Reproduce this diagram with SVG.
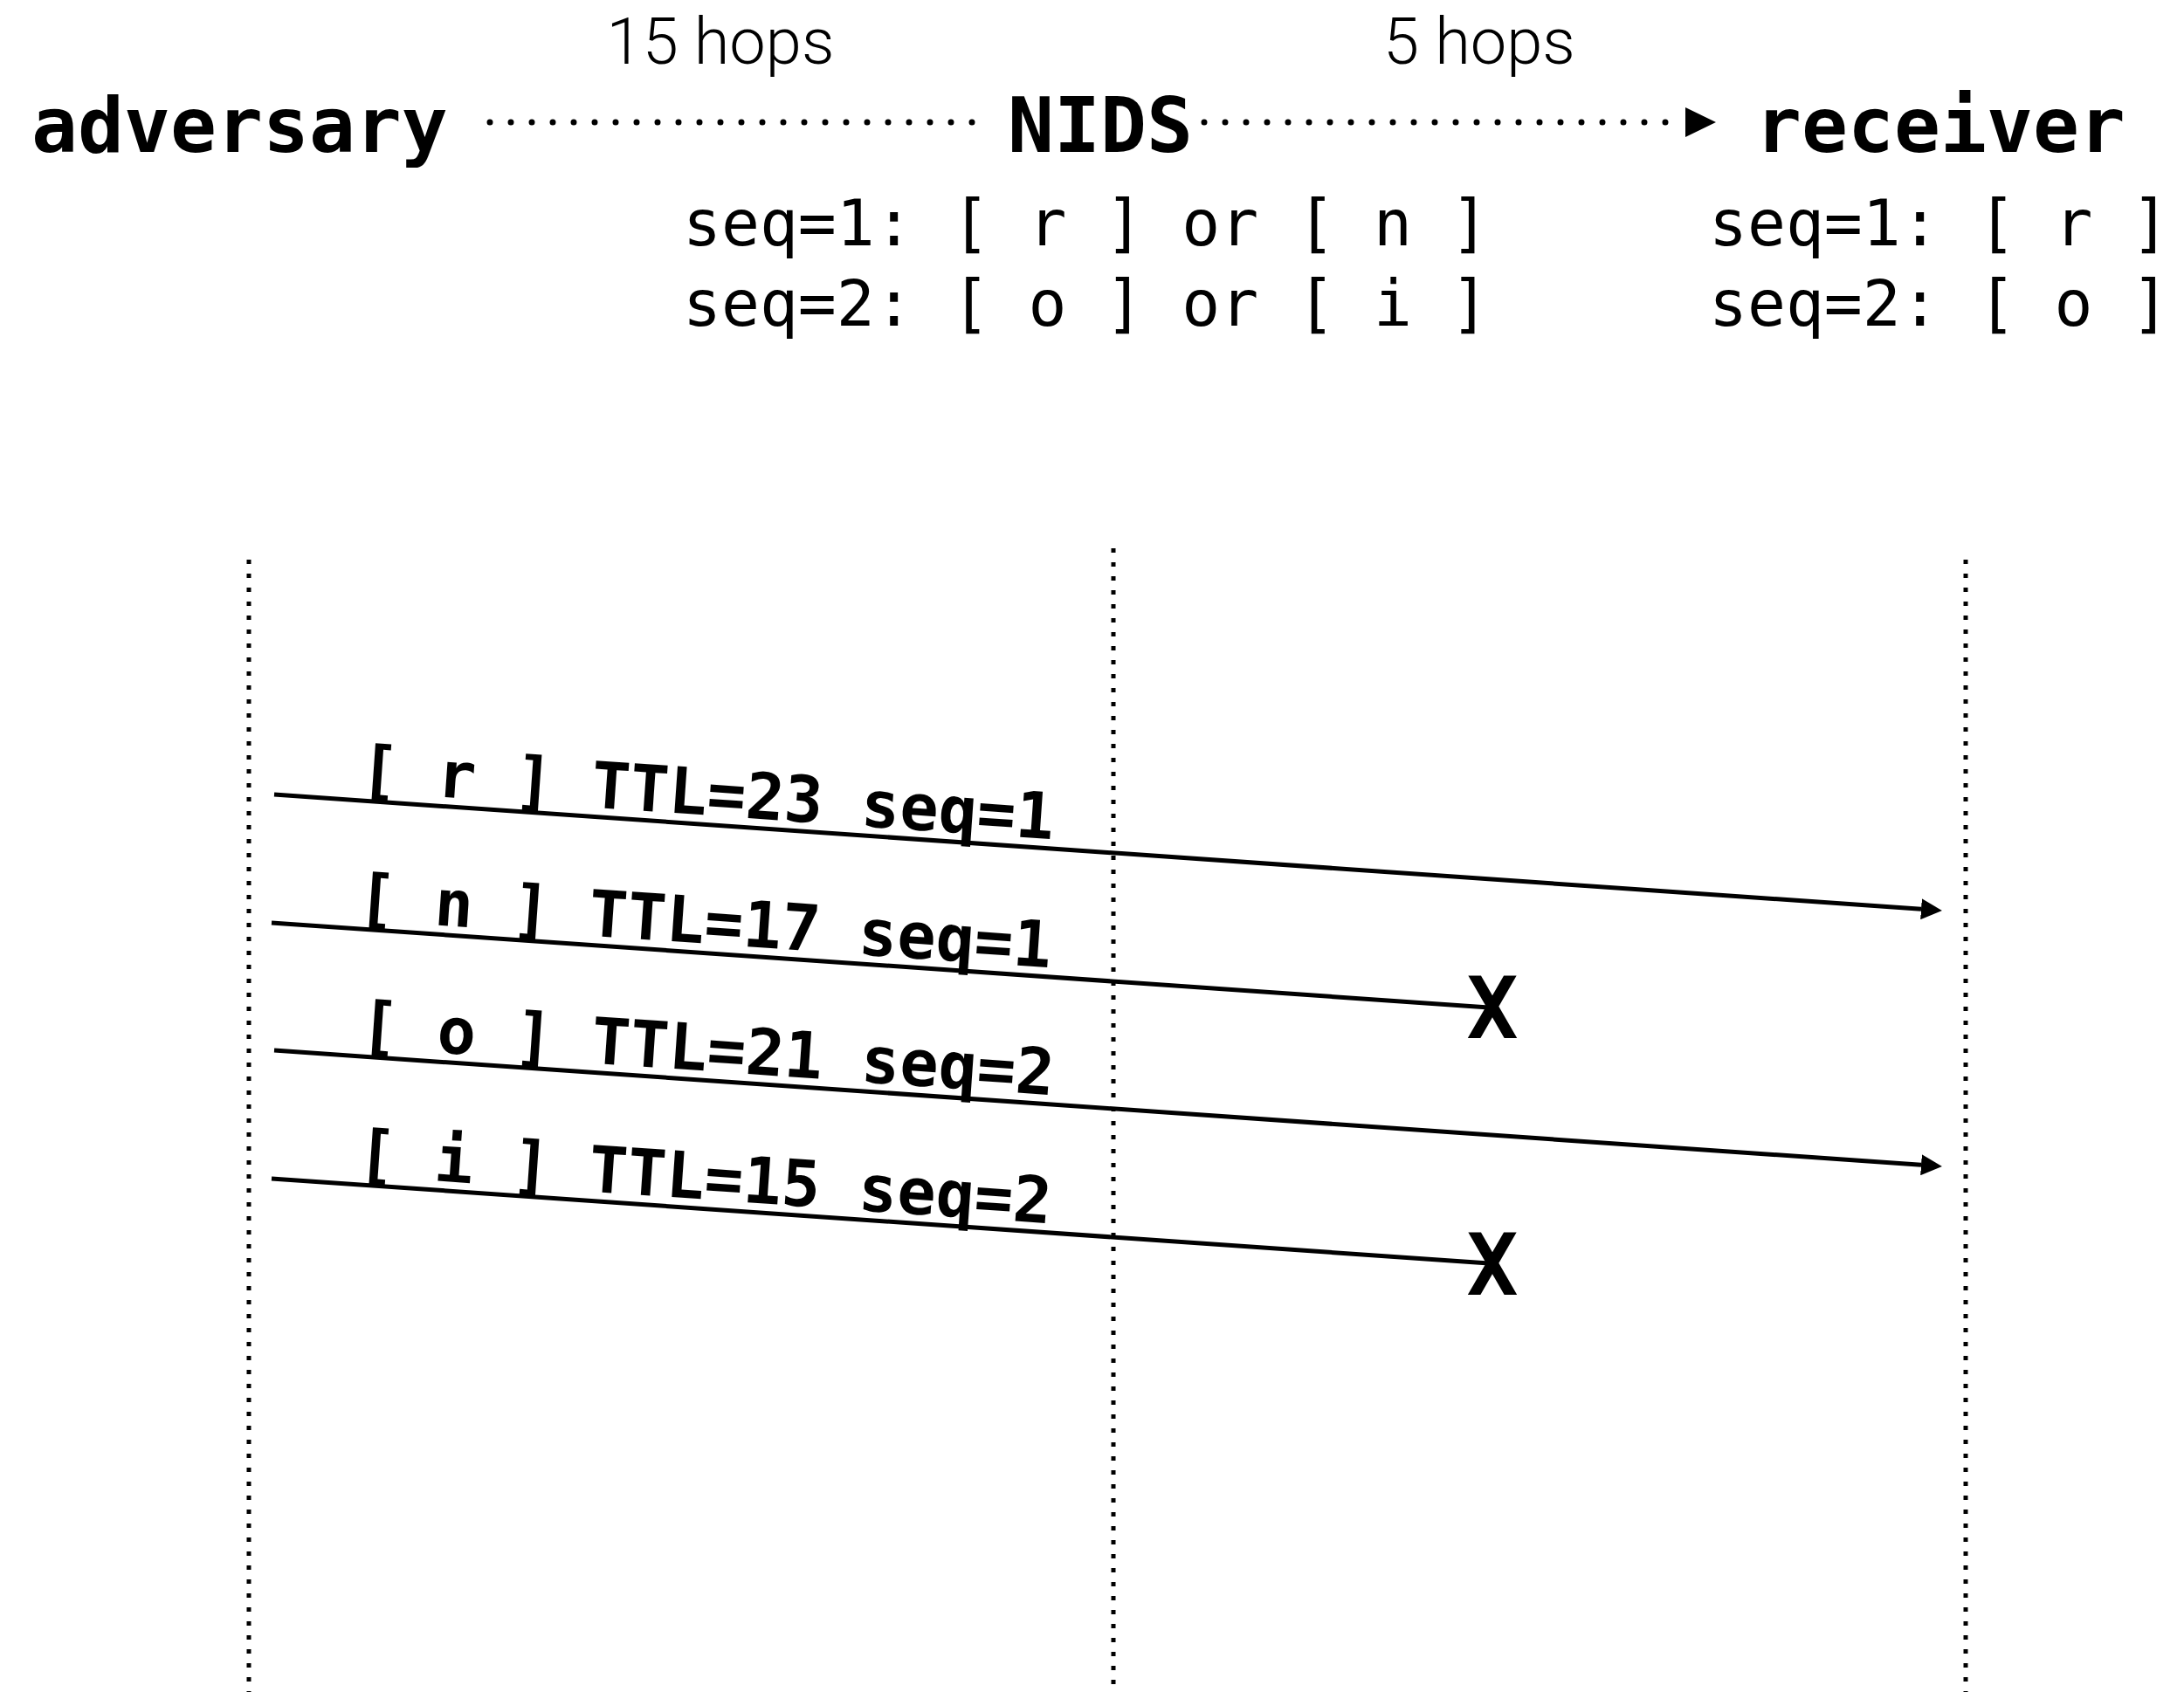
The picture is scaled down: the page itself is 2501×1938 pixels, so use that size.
<svg xmlns="http://www.w3.org/2000/svg" width="2501" height="1938" viewBox="0 0 2501 1938">
  <style>
    .title { font-family: "DejaVu Sans Mono", "Liberation Mono", monospace; font-weight: bold; font-size: 88px; fill: #000; }
    .seq { font-family: "DejaVu Sans Mono", "Liberation Mono", monospace; font-size: 73px; fill: #000; white-space: pre; }
    .lbl { font-family: "DejaVu Sans Mono", "Liberation Mono", monospace; font-weight: bold; font-size: 73.5px; fill: #000; white-space: pre; }
    .hops { font-family: Roboto, "Liberation Sans", sans-serif; font-weight: 300; font-size: 74px; fill: #000; }
    .cross { font-family: "DejaVu Sans Mono", "Liberation Mono", monospace; font-weight: bold; font-size: 98px; fill: #000; }
    .life { stroke: #000; stroke-width: 5; stroke-dasharray: 5 11; fill: none; }
    .hop { stroke: #000; stroke-width: 7; stroke-dasharray: 0 24; stroke-linecap: round; fill: none; }
    .msg { stroke: #000; stroke-width: 5; fill: none; }
  </style>
  <defs>
    <marker id="ah" markerUnits="userSpaceOnUse" markerWidth="24" markerHeight="24" viewBox="0 0 24 24" refX="0" refY="12" orient="auto">
      <path d="M0,0 L24,12 L0,24 z" fill="#000"/>
    </marker>
  </defs>
  <rect width="2501" height="1938" fill="#fff"/>

  <g id="node-adversary">
    <text class="title" x="36" y="174">adversary</text>
  </g>
  <g id="node-nids">
    <text class="title" x="1260" y="174" text-anchor="middle">NIDS</text>
    <text class="seq" x="782" y="281">seq=1: [ r ] or [ n ]</text>
    <text class="seq" x="782" y="373">seq=2: [ o ] or [ i ]</text>
  </g>
  <g id="node-receiver">
    <text class="title" x="2010" y="174">receiver</text>
    <text class="seq" x="1957" y="281">seq=1: [ r ]</text>
    <text class="seq" x="1957" y="373">seq=2: [ o ]</text>
  </g>

  <g id="connectors">
    <path class="hop" d="M561,140 H1137"/>
    <path class="hop" d="M1379,140 H1931"/>
    <path d="M1930,123 L1965,140 L1930,157 z" fill="#000"/>
    <text class="hops" x="825" y="73" text-anchor="middle">15 hops</text>
    <text class="hops" x="1694" y="73" text-anchor="middle">5 hops</text>
  </g>

  <g id="lifelines">
    <path class="life" d="M285,641 V1938"/>
    <path class="life" d="M1275,628 V1938"/>
    <path class="life" d="M2251,641 V1938"/>
  </g>

  <g id="messages">
    <line class="msg" x1="314" y1="910" x2="2200" y2="1041.3" marker-end="url(#ah)"/>
    <line class="msg" x1="311" y1="1057" x2="1705" y2="1154"/>
    <line class="msg" x1="314" y1="1203" x2="2200" y2="1334.3" marker-end="url(#ah)"/>
    <line class="msg" x1="311" y1="1350" x2="1705" y2="1447"/>
    <text class="lbl" transform="translate(411,906) rotate(3.98)">[ r ] TTL=23 seq=1</text>
    <text class="lbl" transform="translate(408,1053) rotate(3.98)">[ n ] TTL=17 seq=1</text>
    <text class="lbl" transform="translate(411,1199) rotate(3.98)">[ o ] TTL=21 seq=2</text>
    <text class="lbl" transform="translate(408,1346) rotate(3.98)">[ i ] TTL=15 seq=2</text>
    <text class="cross" x="1709" y="1189" text-anchor="middle">X</text>
    <text class="cross" x="1709" y="1483" text-anchor="middle">X</text>
  </g>
</svg>
